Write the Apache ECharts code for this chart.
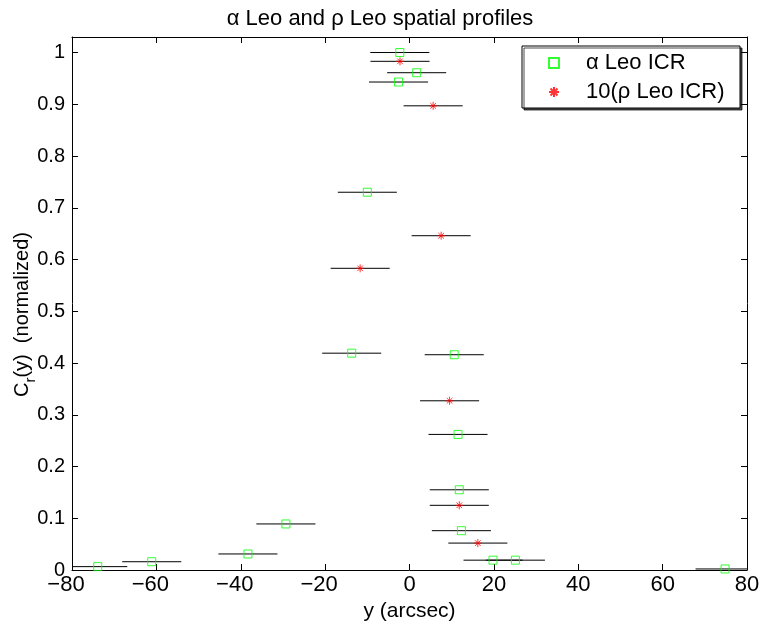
<!DOCTYPE html>
<html>
<head>
<meta charset="utf-8">
<script src="https://cdn.jsdelivr.net/npm/echarts@6/dist/echarts.min.js"></script>
<style>
  html, body { margin: 0; padding: 0; background: #fff; }
  #chart { width: 760px; height: 630px; }
</style>
</head>
<body>
<div id="chart"></div>
<script>
// alpha Leo ICR profile: offset (arcsec), normalized C_r(y), horizontal error half-width
const alphaY   = [-2.3, 1.7, -2.6, -10.0, -13.7, 10.6, 11.5, 11.8, 12.3, -29.3, -38.3, -61.1, -73.9, 19.8, 25.1, 74.8];
const alphaC   = [1.000, 0.961, 0.943, 0.730, 0.419, 0.416, 0.262, 0.155, 0.076, 0.089, 0.031, 0.016, 0.0065, 0.019, 0.019, 0.002];
const alphaErr = [7, 7, 7, 7, 7, 7, 7, 7, 7, 7, 7, 7, 7, 7, 7, 7];

// rho Leo ICR profile (scaled by 10)
const rhoY   = [-2.25, 5.6, 7.5, -11.7, 9.5, 11.8, 16.2];
const rhoC   = [0.983, 0.897, 0.646, 0.583, 0.327, 0.125, 0.052];
const rhoErr = [7, 7, 7, 7, 7, 7, 7];

const xTicks = [-80, -60, -40, -20, 0, 20, 40, 60, 80];
const yTicks = [0, 0.1, 0.2, 0.3, 0.4, 0.5, 0.6, 0.7, 0.8, 0.9, 1];

const seriesNames = ['\u03b1 Leo ICR', '10(\u03c1 Leo ICR)'];
const titleText = '\u03b1 Leo and \u03c1 Leo spatial profiles';

const FONT = 'Liberation Sans, Arial, Helvetica, sans-serif';

function pts(xs, ys) { return xs.map((x, i) => [x, ys[i]]); }
function barData(xs, ys, es) { return xs.map((x, i) => [x, ys[i], es[i]]); }
const isTick = (ticks, v) => ticks.some(t => Math.abs(t - v) < 1e-9);

// horizontal error bar centred on each point
function errorBarItem(params, api) {
  const x = api.value(0), y = api.value(1), e = api.value(2);
  const p1 = api.coord([x - e, y]);
  const p2 = api.coord([x + e, y]);
  return {
    type: 'line',
    shape: { x1: p1[0], y1: p1[1], x2: p2[0], y2: p2[1] },
    style: { stroke: '#000', lineWidth: 1 }
  };
}

const squarePath = 'path://M0,0L10,0L10,10L0,10Z';
const starPath = 'path://M5,0L5,10M0,5L10,5M1.5,1.5L8.5,8.5M1.5,8.5L8.5,1.5';

const chart = echarts.init(document.getElementById('chart'), null, { renderer: 'canvas' });

const axisLine = { show: true, onZero: false, lineStyle: { color: '#000', width: 1 } };
const tickIn = { show: true, inside: true, length: 6, lineStyle: { color: '#000' } };

chart.setOption({
  backgroundColor: '#fff',
  animation: false,
  textStyle: { fontFamily: FONT },
  title: {
    text: titleText,
    left: 'center', top: 3,
    textStyle: { fontFamily: FONT, fontSize: 22, fontWeight: 'normal', color: '#000' }
  },
  grid: { left: 72, right: 13, top: 37, bottom: 60, containLabel: false, outerBoundsMode: 'none' },
  // legend frame with a drop shadow
  graphic: [{
    type: 'rect', z: 50,
    shape: { x: 522, y: 46, width: 218, height: 62 },
    style: {
      fill: '#fff', stroke: '#000', lineWidth: 1,
      shadowColor: 'rgba(0,0,0,0.7)', shadowOffsetX: 2, shadowOffsetY: 2, shadowBlur: 0
    }
  }],
  legend: {
    orient: 'vertical',
    left: 548, top: 52, z: 60,
    padding: 0,
    itemWidth: 10, itemHeight: 10, itemGap: 7,
    textStyle: { fontFamily: FONT, fontSize: 22, color: '#000', padding: [0, 0, 0, 22] },
    data: [
      { name: seriesNames[0], icon: squarePath },
      { name: seriesNames[1], icon: starPath }
    ]
  },
  xAxis: [{
    type: 'value', min: -80, max: 80, interval: 20,
    name: 'y (arcsec)', nameLocation: 'middle', nameGap: 31, nameMoveOverlap: false,
    nameTextStyle: { fontFamily: FONT, fontSize: 21, color: '#000' },
    axisLine: axisLine, axisTick: tickIn,
    axisLabel: {
      color: '#000', fontSize: 22, fontFamily: FONT, margin: 4,
      formatter: v => {
        if (!isTick(xTicks, v)) return '';
        return v < 0 ? '{n|' + String(v).replace('-', '\u2212') + '}' : String(v);
      },
      rich: { n: { fontFamily: FONT, fontSize: 22, color: '#000', padding: [0, 12, 0, 0] } }
    },
    splitLine: { show: false }
  }, {
    type: 'value', min: -80, max: 80, interval: 20, position: 'top',
    axisLine: axisLine, axisTick: tickIn,
    axisLabel: { show: false },
    splitLine: { show: false }
  }],
  yAxis: [{
    type: 'value', min: 0, max: 1.03, interval: 0.1,
    name: '{a|C}{s|r}{a|(y)  (normalized)}', nameLocation: 'middle', nameGap: 34, nameRotate: 90,
    nameMoveOverlap: false,
    nameTextStyle: {
      padding: [0, 22, 0, 0],
      rich: {
        a: { fontFamily: FONT, fontSize: 20, color: '#000', lineHeight: 26, verticalAlign: 'top' },
        s: { fontFamily: FONT, fontSize: 15, color: '#000', lineHeight: 26, verticalAlign: 'bottom', padding: [11, 0, 0, 0] }
      }
    },
    axisLine: axisLine, axisTick: tickIn,
    axisLabel: { color: '#000', fontSize: 20, fontFamily: FONT, margin: 7, showMaxLabel: false,
      formatter: v => (isTick(yTicks, v) ? String(v) : '') },
    splitLine: { show: false }
  }, {
    type: 'value', min: 0, max: 1.03, interval: 0.1, position: 'right',
    axisLine: axisLine, axisTick: tickIn,
    axisLabel: { show: false },
    splitLine: { show: false }
  }],
  series: [
    {
      type: 'custom', name: 'alphaErr', renderItem: errorBarItem, clip: true, z: 2,
      data: barData(alphaY, alphaC, alphaErr), encode: { x: 0, y: 1 }, silent: true
    },
    {
      type: 'custom', name: 'rhoErr', renderItem: errorBarItem, clip: true, z: 2,
      data: barData(rhoY, rhoC, rhoErr), encode: { x: 0, y: 1 }, silent: true
    },
    {
      type: 'scatter', name: seriesNames[0], data: pts(alphaY, alphaC), z: 3,
      symbol: squarePath, symbolSize: 8,
      itemStyle: { color: 'rgba(0,0,0,0)', borderColor: '#00ff00', borderWidth: 1 }
    },
    {
      type: 'scatter', name: seriesNames[1], data: pts(rhoY, rhoC), z: 3,
      symbol: starPath, symbolSize: 8,
      itemStyle: { color: 'rgba(0,0,0,0)', borderColor: '#ff0000', borderWidth: 1 }
    }
  ]
});
</script>
</body>
</html>
